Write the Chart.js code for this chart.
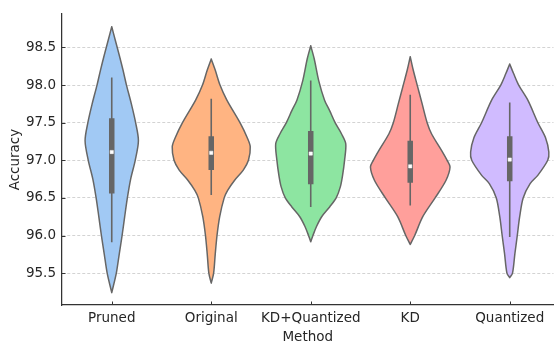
<!DOCTYPE html>
<html>
<head>
<meta charset="utf-8">
<script src="https://cdn.jsdelivr.net/npm/chart.js@4/dist/chart.umd.min.js"></script>
<style>
html,body{margin:0;padding:0;background:#fff;}
#wrap{width:558px;height:345px;}
</style>
</head>
<body>
<div id="wrap"><canvas id="c" width="558" height="345"></canvas></div>
<script>
// ---- data ----
const methods = ['Pruned', 'Original', 'KD+Quantized', 'KD', 'Quantized'];
const yTicks = [95.5, 96.0, 96.5, 97.0, 97.5, 98.0, 98.5];

// violin outlines: accuracy levels (top tip -> bottom tip) and half-widths (category units)
const prunedLevels = [98.775, 98.6, 98.4, 98.2, 98.0, 97.75, 97.5, 97.26, 97.0, 96.75, 96.5, 96.25, 96.0, 95.75, 95.5, 95.24];
const prunedWidths = [0, 0.035, 0.075, 0.113, 0.148, 0.197, 0.24, 0.268, 0.236, 0.19, 0.157, 0.13, 0.104, 0.075, 0.046, 0];

const originalLevels = [98.347, 98.2, 98.0, 97.8, 97.5, 97.3, 97.18, 97.0, 96.87, 96.735, 96.6, 96.5, 96.25, 96.0, 95.75, 95.5, 95.367];
const originalWidths = [0, 0.04, 0.088, 0.157, 0.289, 0.362, 0.392, 0.374, 0.322, 0.235, 0.165, 0.13, 0.085, 0.058, 0.04, 0.024, 0];

const kdQuantLevels = [98.523, 98.35, 98.06, 97.8, 97.66, 97.5, 97.35, 97.22, 97.0, 96.8, 96.65, 96.5, 96.38, 96.25, 96.12, 96.0, 95.918];
const kdQuantWidths = [0, 0.035, 0.08, 0.139, 0.19, 0.245, 0.31, 0.352, 0.34, 0.32, 0.298, 0.256, 0.19, 0.11, 0.058, 0.022, 0];

const kdLevels = [98.377, 98.2, 98.0, 97.75, 97.5, 97.35, 97.13, 97.0, 96.91, 96.735, 96.5, 96.25, 96.0, 95.88];
const kdWidths = [0, 0.03, 0.07, 0.12, 0.17, 0.215, 0.316, 0.371, 0.4, 0.36, 0.25, 0.126, 0.045, 0];

const quantLevels = [98.28, 98.15, 98.0, 97.8, 97.5, 97.3, 97.11, 97.0, 96.8, 96.69, 96.5, 96.25, 96.0, 95.76, 95.5, 95.44];
const quantWidths = [0, 0.04, 0.09, 0.182, 0.283, 0.36, 0.393, 0.382, 0.282, 0.205, 0.135, 0.1, 0.076, 0.052, 0.028, 0];

// inner box statistics
const whiskerLow  = [95.91, 96.54, 96.38, 96.40, 95.98];
const whiskerHigh = [98.10, 97.82, 98.06, 97.87, 97.77];
const q1 = [96.56, 96.87, 96.68, 96.70, 96.72];
const q3 = [97.56, 97.32, 97.39, 97.26, 97.32];
const medians = [97.11, 97.10, 97.09, 96.92, 97.01];

// ---- styling ----
const fillColors = ['#a1c9f4', '#ffb482', '#8de5a1', '#ff9f9b', '#d0bbff'];
const lineGray = '#666666';
const axisColor = '#333333';
const textColor = '#262626';
const FONT = 'DejaVu Sans';

const profiles = [
  [prunedLevels, prunedWidths],
  [originalLevels, originalWidths],
  [kdQuantLevels, kdQuantWidths],
  [kdLevels, kdWidths],
  [quantLevels, quantWidths]
];

// closed outline: right side top->bottom, bottom tip repeated (sharp tip), left side bottom->top
function outline(i, levels, widths) {
  const n = levels.length;
  const pts = [];
  for (let k = 0; k < n; k++) pts.push({x: i + widths[k], y: levels[k]});
  for (let k = n - 1; k >= 0; k--) pts.push({x: i - widths[k], y: levels[k]});
  return pts;
}

const datasets = [];
profiles.forEach(([lv, wd], i) => {
  datasets.push({
    data: outline(i, lv, wd),
    showLine: true,
    fill: 'shape',
    backgroundColor: fillColors[i],
    borderColor: lineGray,
    borderWidth: 1.5,
    borderJoinStyle: 'round',
    borderCapStyle: 'round',
    tension: 0.3,
    pointRadius: 0,
    order: 3
  });
  datasets.push({
    data: [{x: i, y: whiskerLow[i]}, {x: i, y: whiskerHigh[i]}],
    showLine: true, fill: false,
    borderColor: lineGray, borderWidth: 1.6, borderCapStyle: 'butt',
    pointRadius: 0, order: 2
  });
  datasets.push({
    data: [{x: i, y: q1[i]}, {x: i, y: q3[i]}],
    showLine: true, fill: false,
    borderColor: lineGray, borderWidth: 5.5, borderCapStyle: 'butt',
    pointRadius: 0, order: 1
  });
});
datasets.push({
  data: medians.map((m, i) => ({x: i, y: m})),
  showLine: false,
  pointStyle: 'rect',
  pointRadius: 2.3,
  backgroundColor: '#ffffff',
  borderColor: '#ffffff',
  borderWidth: 0.5,
  order: 0
});

const inwardTicks = {
  id: 'inwardTicks',
  afterDraw(chart) {
    const {ctx, chartArea, scales} = chart;
    ctx.save();
    ctx.strokeStyle = axisColor;
    ctx.lineWidth = 1;
    methods.forEach((m, i) => {
      const px = Math.round(scales.x.getPixelForValue(i)) + 0.5;
      ctx.beginPath();
      ctx.moveTo(px, chartArea.bottom);
      ctx.lineTo(px, chartArea.bottom - 3.5);
      ctx.stroke();
    });
    yTicks.forEach(v => {
      const py = Math.round(scales.y.getPixelForValue(v)) + 0.5;
      ctx.beginPath();
      ctx.moveTo(chartArea.left, py);
      ctx.lineTo(chartArea.left + 3.5, py);
      ctx.stroke();
    });
    ctx.restore();
  }
};

new Chart(document.getElementById('c'), {
  type: 'scatter',
  data: {datasets},
  options: {
    responsive: false,
    devicePixelRatio: 1,
    animation: false,
    layout: {padding: {top: 13, right: 0, left: 0, bottom: 0}},
    plugins: {legend: {display: false}, tooltip: {enabled: false}},
    scales: {
      x: {
        type: 'linear',
        min: -0.5,
        max: 4.44,
        afterFit: s => { s.height = 40; },
        afterBuildTicks: s => { s.ticks = methods.map((m, i) => ({value: i})); },
        grid: {display: false, drawTicks: false},
        border: {display: true, color: axisColor, width: 1.25},
        ticks: {
          autoSkip: false,
          maxRotation: 0,
          padding: 5,
          color: textColor,
          font: {family: FONT, size: 13.5},
          callback: v => methods[v]
        },
        title: {
          display: true, text: 'Method', color: textColor,
          font: {family: FONT, size: 13.5},
          padding: {top: 0, bottom: -1}
        }
      },
      y: {
        min: 95.076,
        max: 98.944,
        afterFit: s => { s.width = 62; },
        afterBuildTicks: s => { s.ticks = yTicks.map(v => ({value: v})); },
        grid: {display: true, drawTicks: false, color: '#c8c8c8', lineWidth: 0.8},
        border: {display: true, color: axisColor, width: 1.25, dash: [3, 2]},
        ticks: {
          padding: 6,
          color: textColor,
          font: {family: FONT, size: 13.5},
          callback: v => Number(v).toFixed(1)
        },
        title: {
          display: true, text: 'Accuracy', color: textColor,
          font: {family: FONT, size: 13.5},
          padding: {top: 7, bottom: 0}
        }
      }
    }
  },
  plugins: [inwardTicks]
});
</script>
</body>
</html>
